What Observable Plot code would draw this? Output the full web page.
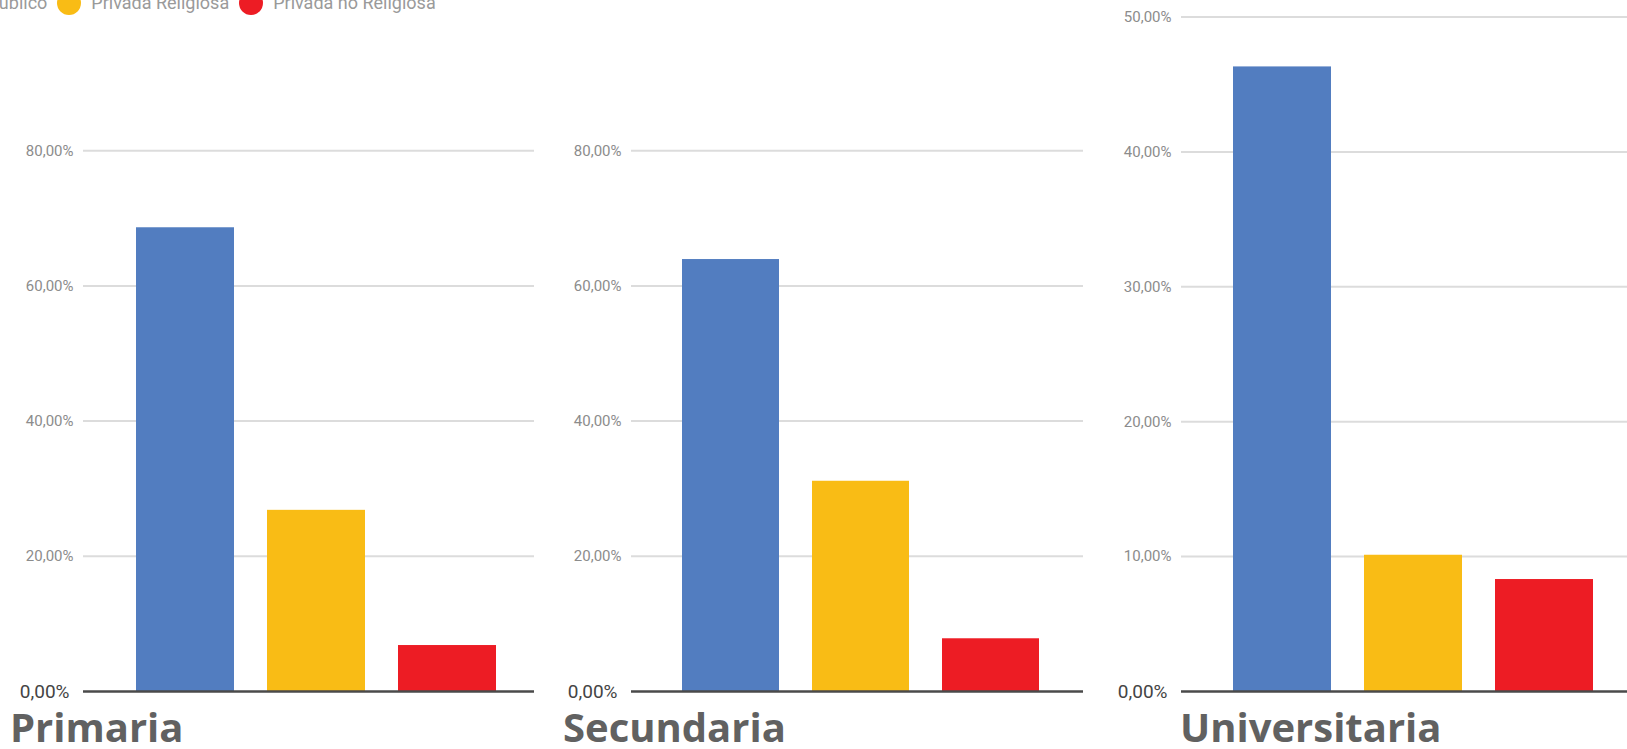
<!DOCTYPE html>
<html>
<head>
<meta charset="utf-8">
<script src="https://cdn.jsdelivr.net/npm/d3@7"></script>
<script src="https://cdn.jsdelivr.net/npm/@observablehq/plot@0.6"></script>
<style>
  html, body { margin: 0; padding: 0; background: #fff; }
  #page { position: relative; width: 1627px; height: 749px; overflow: hidden; background: #fff; }
  .panel { position: absolute; top: 0; }
  .titulo { position: absolute; top: 707px; font-family: "Open Sans", sans-serif; font-weight: 700; font-size: 40px; line-height: 40px; color: #616161; white-space: nowrap; }
  #legend { position: absolute; top: -9.5px; left: -46.5px; display: flex; align-items: center; font-family: Roboto, sans-serif; font-size: 18px; line-height: 24px; color: #9a9a9a; white-space: nowrap; }
  #legend .dot { width: 24px; height: 24px; border-radius: 50%; margin-right: 10px; flex: none; }
  #legend .lab { margin-right: 10px; }
</style>
</head>
<body>
<div id="page"></div>
<script>
// ---- data ----
const tipos = ["Público", "Privada Religiosa", "Privada no Religiosa"];
const colores = ["#527dc0", "#f9bc15", "#ed1c24"];
const niveles = ["Primaria", "Secundaria", "Universitaria"];
const primaria = [68.6, 26.8, 6.8];
const secundaria = [63.9, 31.1, 7.8];
const universitaria = [46.3, 10.1, 8.3];
const ticksPrimaria = [0, 20, 40, 60, 80];
const ticksSecundaria = [0, 20, 40, 60, 80];
const ticksUniversitaria = [0, 10, 20, 30, 40, 50];
const dominioMax = [100, 100, 50];

const valores = [primaria, secundaria, universitaria];
const ticks = [ticksPrimaria, ticksSecundaria, ticksUniversitaria];

// ---- layout ----
const panels = [
  {left: 0,    width: 540, marginLeft: 83, marginRight: 6, marginTop: 15, xRange: [135, 497.3], titleLeft: 10},
  {left: 545,  width: 540, marginLeft: 86, marginRight: 2, marginTop: 15, xRange: [135.7, 494.3], titleLeft: 563},
  {left: 1095, width: 532, marginLeft: 86, marginRight: 0, marginTop: 16.5, xRange: [136.7, 498.8], titleLeft: 1180}
];

const fmt = d => d.toFixed(2).replace(".", ",") + "%";
const page = document.getElementById("page");

niveles.forEach((nivel, i) => {
  const p = panels[i];
  const data = tipos.map((t, j) => ({tipo: t, valor: valores[i][j]}));
  const nz = ticks[i].filter(t => t !== 0);
  const chart = Plot.plot({
    width: p.width,
    height: 700,
    marginLeft: p.marginLeft,
    marginRight: p.marginRight,
    marginTop: p.marginTop,
    marginBottom: 9,
    style: {fontFamily: "Roboto, sans-serif", background: "transparent", overflow: "visible"},
    x: {domain: tipos, range: p.xRange, paddingInner: 0.255, paddingOuter: 0, axis: null},
    y: {domain: [0, dominioMax[i]], axis: null},
    color: {domain: tipos, range: colores},
    marks: [
      Plot.gridY(nz, {stroke: "#dcdcdc", strokeOpacity: 1, strokeWidth: 2}),
      Plot.axisY(nz, {tickSize: 0, tickPadding: 10, tickFormat: fmt, label: null, fill: "#8c8c8c", fontSize: 15, fontFamily: "Roboto, sans-serif"}),
      Plot.axisY([0], {tickSize: 0, tickPadding: 14, tickFormat: fmt, label: null, fill: "#444", fontSize: 19, fontFamily: "Roboto, sans-serif"}),
      Plot.barY(data, {x: "tipo", y: "valor", fill: "tipo"}),
      Plot.ruleY([0], {stroke: "#4a4a4a", strokeWidth: 2.5})
    ]
  });
  chart.classList.add("panel");
  chart.style.left = p.left + "px";
  page.appendChild(chart);

  const t = document.createElement("div");
  t.className = "titulo";
  t.style.left = p.titleLeft + "px";
  t.textContent = nivel;
  page.appendChild(t);
});

// ---- legend (cropped at the top, as in the reference) ----
const legend = document.createElement("div");
legend.id = "legend";
tipos.forEach((t, j) => {
  const dot = document.createElement("span");
  dot.className = "dot";
  dot.style.background = colores[j];
  const lab = document.createElement("span");
  lab.className = "lab";
  lab.textContent = t;
  legend.appendChild(dot);
  legend.appendChild(lab);
});
page.appendChild(legend);
</script>
</body>
</html>
